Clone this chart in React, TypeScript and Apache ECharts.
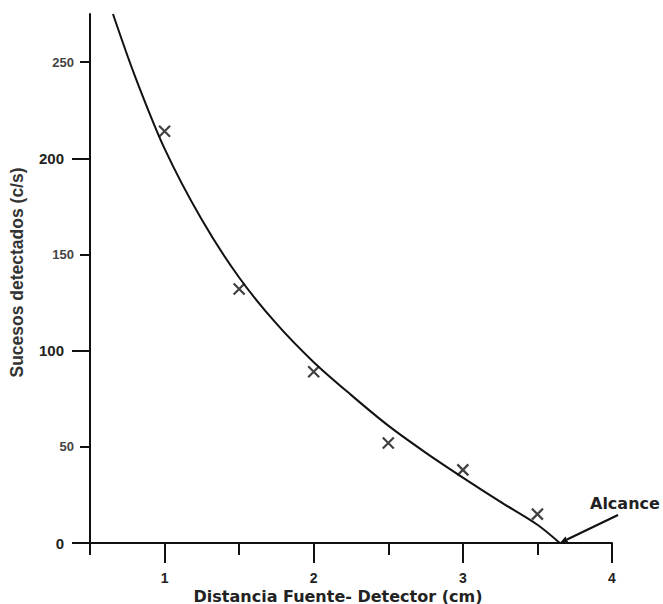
import React, { useEffect, useRef } from "react";
import * as echarts from "echarts";

// Fitted curve
const curveX = [0.654, 0.8, 1.0, 1.25, 1.5, 1.75, 2.0, 2.25, 2.5, 2.75, 3.0, 3.25, 3.5, 3.65];
const curveY = [275, 243, 205, 168, 138, 114, 94, 77, 61, 47, 34, 21.5, 9.5, 0];
// Measured points
const pointX = [1, 1.5, 2, 2.5, 3, 3.5];
const pointY = [214, 132, 89, 52, 38, 15];
// Ticks
const xMajorTicks = [1, 2, 3, 4];
const xMinorTicks = [0.5, 1.5, 2.5, 3.5];
const yMajorTicks = [0, 100, 200];
const yMinorTicks = [50, 150, 250];
// Range annotation
const alcanceX = 3.65;
const alcanceY = 0;
const alcanceLabel = "Alcance";
const xTitle = "Distancia Fuente- Detector (cm)";
const yTitle = "Sucesos detectados (c/s)";

const FONT = "'DejaVu Sans', 'Liberation Sans', Arial, sans-serif";
const FONT2 = "'Liberation Sans', Arial, sans-serif";
const INK = "#111";

export default function App() {
  const ref = useRef<HTMLDivElement>(null);
  useEffect(() => {
    if (!ref.current) return;
    const chart = echarts.init(ref.current, null, { renderer: "svg" });
    const grid = { left: 90, right: 51, top: 14, bottom: 61, outerBoundsMode: "none", containLabel: false };
    const tickStyle = { color: INK, width: 2 };
    const option: any = {
      animation: false,
      backgroundColor: "#fff",
      grid: [{ ...grid }, { ...grid }],
      xAxis: [
        {
          gridIndex: 0,
          type: "value",
          min: 0.5,
          max: 4,
          axisLine: { show: true, onZero: false, lineStyle: tickStyle },
          axisTick: { show: true, customValues: xMajorTicks, length: 20, lineStyle: tickStyle },
          axisLabel: {
            customValues: xMajorTicks,
            margin: 28,
            fontFamily: FONT2,
            fontWeight: "bold",
            fontSize: 14,
            lineHeight: 14,
            color: "#222",
          },
          splitLine: { show: false },
          name: xTitle,
          nameLocation: "middle",
          nameGap: 45,
          nameMoveOverlap: false,
          nameTextStyle: {
            fontFamily: FONT,
            fontWeight: "bold",
            fontSize: 16,
            lineHeight: 16,
            color: "#222",
            padding: [0, 26, 0, 0],
          },
        },
        {
          gridIndex: 1,
          type: "value",
          min: 0.5,
          max: 4,
          axisLine: { show: false },
          axisTick: { show: true, customValues: xMinorTicks, length: 12, lineStyle: tickStyle },
          axisLabel: { show: false },
          splitLine: { show: false },
        },
      ],
      yAxis: [
        {
          gridIndex: 0,
          type: "value",
          min: 0,
          max: 275,
          axisLine: { show: true, onZero: false, lineStyle: tickStyle },
          axisTick: { show: true, customValues: yMajorTicks, length: 18, lineStyle: tickStyle },
          axisLabel: {
            customValues: yMajorTicks,
            margin: 26,
            fontFamily: FONT2,
            fontWeight: "bold",
            fontSize: 15,
            color: "#222",
          },
          splitLine: { show: false },
          name: yTitle,
          nameLocation: "middle",
          nameRotate: 90,
          nameGap: 64,
          nameMoveOverlap: false,
          nameTextStyle: {
            fontFamily: FONT2,
            fontWeight: "bold",
            fontSize: 17.5,
            color: "#333",
            padding: [0, 0, 0, 12],
          },
        },
        {
          gridIndex: 1,
          type: "value",
          min: 0,
          max: 275,
          axisLine: { show: false },
          axisTick: { show: true, customValues: yMinorTicks, length: 10, lineStyle: tickStyle },
          axisLabel: {
            customValues: yMinorTicks,
            margin: 16,
            fontFamily: FONT2,
            fontWeight: "bold",
            fontSize: 13,
            color: "#444",
          },
          splitLine: { show: false },
        },
      ],
      series: [
        {
          type: "line",
          xAxisIndex: 0,
          yAxisIndex: 0,
          data: curveX.map((x, i) => [x, curveY[i]]),
          smooth: 0.3,
          symbol: "none",
          clip: false,
          lineStyle: { color: INK, width: 2 },
        },
        {
          type: "scatter",
          xAxisIndex: 0,
          yAxisIndex: 0,
          data: pointX.map((x, i) => [x, pointY[i]]),
          symbol: "path://M0,0L10,10M10,0L0,10",
          symbolSize: 11,
          itemStyle: { color: "none", borderColor: "#111", borderWidth: 2.2 },
        },
      ],
    };
    chart.setOption(option);

    const end = chart.convertToPixel({ gridIndex: 0 }, [alcanceX, alcanceY]) as number[];
    const start = [618, 515];
    const dx = end[0] - start[0];
    const dy = end[1] - start[1];
    const len = Math.sqrt(dx * dx + dy * dy);
    const ux = dx / len;
    const uy = dy / len;
    const hl = 8;
    const hw = 3.5;
    const bx = end[0] - ux * hl;
    const by = end[1] - uy * hl;
    chart.setOption({
      graphic: [
        {
          type: "line",
          shape: { x1: start[0], y1: start[1], x2: bx, y2: by },
          style: { stroke: INK, lineWidth: 2.2 },
        },
        {
          type: "polygon",
          shape: {
            points: [
              [end[0], end[1]],
              [bx - uy * hw, by + ux * hw],
              [bx + uy * hw, by - ux * hw],
            ],
          },
          style: { fill: INK },
        },
        {
          type: "text",
          x: 590,
          y: 503,
          style: {
            text: alcanceLabel,
            fontFamily: FONT,
            fontWeight: "bold",
            fontSize: 16,
            fill: "#222",
            align: "left",
            verticalAlign: "middle",
          },
        },
      ],
    });
    return () => chart.dispose();
  }, []);
  return (
    <div
      ref={ref}
      style={{ position: "fixed", left: 0, top: 0, width: 663, height: 604, background: "#fff" }}
    />
  );
}
